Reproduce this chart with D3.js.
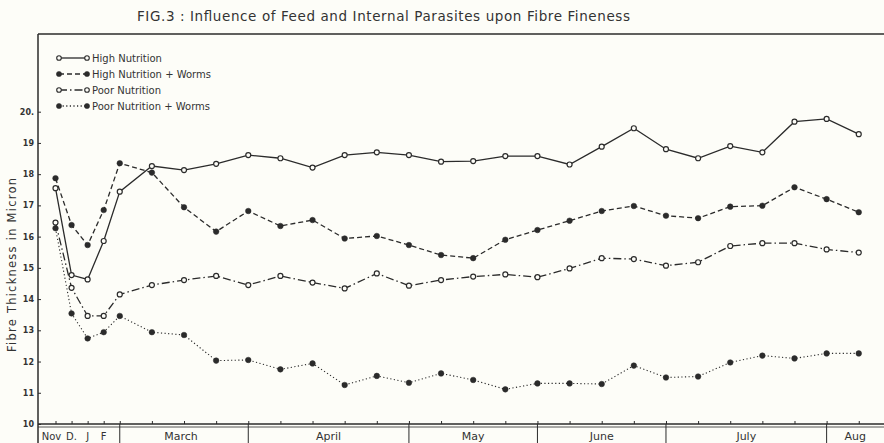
<!DOCTYPE html>
<html>
<head>
<meta charset="utf-8">
<script src="https://cdnjs.cloudflare.com/ajax/libs/d3/7.8.5/d3.min.js"></script>
<style>
body { margin: 0; background: #fdfdf8; }
svg { display: block; font-family: "DejaVu Sans", sans-serif; }
</style>
</head>
<body>
<script>
// week index of each sampling (Nov..F were half-spaced)
let weeks = [0, 0.5, 1, 1.5, 2, 3, 4, 5, 6, 7, 8, 9, 10, 11, 12, 13, 14, 15, 16, 17, 18, 19, 20, 21, 22, 23, 24, 25]

let highNutrition = [17.55, 14.77, 14.63, 15.86, 17.44, 18.26, 18.13, 18.33, 18.61, 18.51, 18.21, 18.61, 18.70, 18.61,
	18.40, 18.42, 18.58, 18.58, 18.31, 18.88, 19.47, 18.80, 18.51, 18.90, 18.70, 19.68, 19.77, 19.28]
let highWorms = [17.87, 16.37, 15.73, 16.85, 18.35, 18.05, 16.94, 16.16, 16.82, 16.34, 16.53, 15.94, 16.02, 15.73,
	15.41, 15.31, 15.90, 16.21, 16.51, 16.82, 16.98, 16.67, 16.59, 16.96, 16.99, 17.58, 17.20, 16.78]
let poorNutrition = [16.45, 14.36, 13.46, 13.46, 14.15, 14.45, 14.61, 14.74, 14.45, 14.74, 14.53, 14.34, 14.82, 14.43,
	14.61, 14.72, 14.79, 14.70, 14.98, 15.31, 15.28, 15.07, 15.18, 15.70, 15.79, 15.79, 15.59, 15.49]
let poorWorms = [16.27, 13.54, 12.74, 12.94, 13.46, 12.94, 12.85, 12.03, 12.05, 11.75, 11.94, 11.25, 11.54, 11.32,
	11.62, 11.41, 11.11, 11.30, 11.30, 11.28, 11.87, 11.49, 11.52, 11.97, 12.19, 12.10, 12.26, 12.26]

let seriesNames = ['High Nutrition', 'High Nutrition + Worms', 'Poor Nutrition', 'Poor Nutrition + Worms']
let yTicks = [10, 11, 12, 13, 14, 15, 16, 17, 18, 19, 20]

let earlyLabels = ['Nov', 'D.', 'J', 'F']
let earlyWeeks = [0, 0.5, 1, 1.5]
let monthNames = ['March', 'April', 'May', 'June', 'July', 'Aug']
let monthStarts = [2, 6, 11, 15, 19, 24]
let monthEnds = [6, 11, 15, 19, 24, 25.78]

let W = 884, H = 443
let frameLeft = 38, frameTop = 34, axisY = 424

let svg = d3.select('body').append('svg').attr('width', W).attr('height', H)

let x = d3.scaleLinear().domain([0, 25]).range([55.5, 858.75])
let y = d3.scaleLinear().domain([10, 20]).range([axisY, 111.7])

let ink = '#2b2b2b'

// title
svg.append('text')
	.attr('x', 137).attr('y', 21)
	.attr('textLength', 493).attr('lengthAdjust', 'spacing')
	.attr('font-size', 13.5).attr('fill', '#333')
	.text('FIG.3 :  Influence  of  Feed  and  Internal  Parasites  upon  Fibre  Fineness')

// frame
svg.append('line').attr('x1', frameLeft).attr('x2', W + 2).attr('y1', frameTop).attr('y2', frameTop)
	.attr('stroke', ink).attr('stroke-width', 1.5)
svg.append('line').attr('x1', frameLeft).attr('x2', frameLeft).attr('y1', frameTop).attr('y2', H + 2)
	.attr('stroke', ink).attr('stroke-width', 1.5)
svg.append('line').attr('x1', frameLeft).attr('x2', W + 2).attr('y1', axisY).attr('y2', axisY)
	.attr('stroke', ink).attr('stroke-width', 1.5)
svg.append('line').attr('x1', frameLeft).attr('x2', W + 2).attr('y1', axisY + 3).attr('y2', axisY + 3)
	.attr('stroke', ink).attr('stroke-width', 0.8)

// y axis
let yAxis = svg.append('g')
	.attr('transform', `translate(${frameLeft},0)`)
	.call(d3.axisLeft(y).tickValues(yTicks).tickSizeInner(-3).tickSizeOuter(0).tickPadding(4))
yAxis.select('.domain').remove()
yAxis.selectAll('.tick line').attr('stroke', ink)
yAxis.selectAll('.tick text')
	.attr('font-size', 8).attr('font-weight', 'bold').attr('fill', '#333')
	.attr('font-family', '"DejaVu Sans", sans-serif')
	.text(d => d == 20 ? '20.' : d)

svg.append('text')
	.attr('transform', 'translate(16,265) rotate(-90)')
	.attr('text-anchor', 'middle')
	.attr('font-size', 11.5).attr('fill', '#333')
	.attr('textLength', 174).attr('lengthAdjust', 'spacing')
	.text('Fibre  Thickness  in  Micron')

// x axis ticks
let xAxis = svg.append('g')
	.attr('transform', `translate(0,${axisY})`)
	.call(d3.axisBottom(x).tickValues(weeks).tickSizeInner(-3).tickSizeOuter(0).tickFormat(''))
xAxis.select('.domain').remove()
xAxis.selectAll('.tick line').attr('stroke', ink)

// month band
let band = svg.append('g')
band.selectAll('line.sep')
	.data(monthStarts)
	.enter().append('line')
	.attr('class', 'sep')
	.attr('x1', d => x(d)).attr('x2', d => x(d))
	.attr('y1', axisY).attr('y2', H + 2)
	.attr('stroke', ink).attr('stroke-width', 1)
band.selectAll('text.month')
	.data(monthNames)
	.enter().append('text')
	.attr('class', 'month')
	.attr('x', (d, i) => (x(monthStarts[i]) + x(monthEnds[i])) / 2 - (i == 0 ? 3 : 0))
	.attr('y', 439.5)
	.attr('text-anchor', 'middle')
	.attr('font-size', 11).attr('fill', '#333')
	.text(d => d)
band.selectAll('text.early')
	.data(earlyLabels)
	.enter().append('text')
	.attr('class', 'early')
	.attr('x', (d, i) => x(earlyWeeks[i]) - (i == 0 ? 4 : 0))
	.attr('y', 439.5)
	.attr('text-anchor', 'middle')
	.attr('font-size', 10).attr('fill', '#333')
	.text(d => d)

// series
let series = [
	{ name: seriesNames[0], values: highNutrition, dash: null, open: true },
	{ name: seriesNames[1], values: highWorms, dash: '5,3', open: false },
	{ name: seriesNames[2], values: poorNutrition, dash: '8,3,1.5,3', open: true },
	{ name: seriesNames[3], values: poorWorms, dash: '1.2,2.4', open: false }
]

let line = d3.line().x(d => x(d[0])).y(d => y(d[1]))

for (let s of series) {
	let pts = weeks.map((w, i) => [w, s.values[i]])
	svg.append('path')
		.datum(pts)
		.attr('d', line)
		.attr('fill', 'none')
		.attr('stroke', ink)
		.attr('stroke-width', s.dash && s.dash.startsWith('1.2') ? 1.1 : 1.3)
		.attr('stroke-dasharray', s.dash)
	svg.append('g').selectAll('circle')
		.data(pts)
		.enter().append('circle')
		.attr('cx', d => x(d[0])).attr('cy', d => y(d[1]))
		.attr('r', s.open ? 2.5 : 2.8)
		.attr('fill', s.open ? '#fdfdf8' : ink)
		.attr('stroke', ink).attr('stroke-width', s.open ? 1.2 : 0.5)
}

// legend
let legend = svg.append('g')
series.forEach((s, i) => {
	let ly = 58 + i * 16
	legend.append('line')
		.attr('x1', 59).attr('x2', 87).attr('y1', ly).attr('y2', ly)
		.attr('stroke', ink).attr('stroke-width', 1.3)
		.attr('stroke-dasharray', s.dash)
	legend.selectAll(null)
		.data([59, 87])
		.enter().append('circle')
		.attr('cx', d => d).attr('cy', ly)
		.attr('r', s.open ? 2.3 : 2.6)
		.attr('fill', s.open ? '#fdfdf8' : ink)
		.attr('stroke', ink).attr('stroke-width', s.open ? 1.1 : 0.5)
	legend.append('text')
		.attr('x', 92).attr('y', ly + 3.5)
		.attr('font-size', 10).attr('fill', '#333')
		.text(s.name.replace(' + ', '  +  '))
})
</script>
</body>
</html>
